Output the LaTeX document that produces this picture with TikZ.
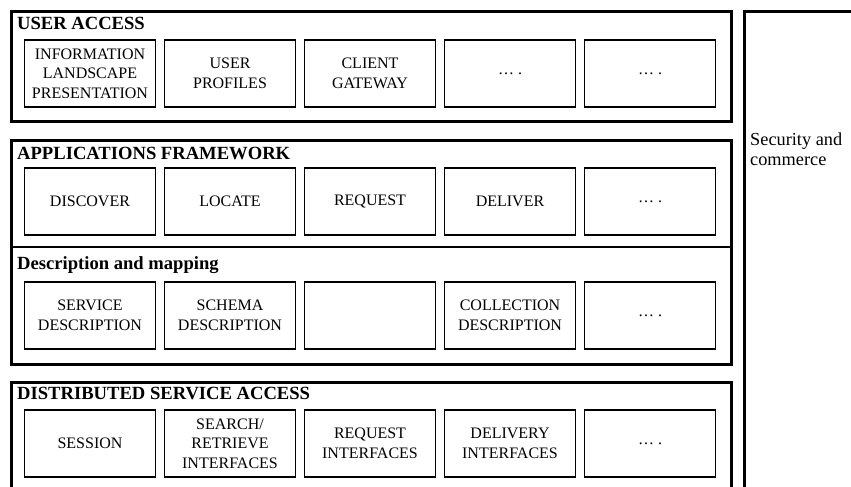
\documentclass[tikz,border=0pt]{standalone}
\usepackage{fontspec}
\setmainfont{Liberation Serif}
\begin{document}
\begin{tikzpicture}[x=1pt,y=-1pt,
  frame/.style={draw=black,line width=2.6pt,anchor=north west,inner sep=0pt},
  unit/.style={draw=black,line width=1.1pt,minimum width=131pt,minimum height=67pt,
    inner sep=2pt,align=center,font=\fontsize{16}{19.5}\selectfont},
  heading/.style={anchor=base west,inner sep=0pt,font=\fontsize{18.6}{22}\selectfont\bfseries},
  side/.style={anchor=north west,inner sep=0pt,align=left,font=\fontsize{18.3}{20}\selectfont}]
\useasboundingbox (0,0) rectangle (851,487);

% outer layer frames
\node[frame,minimum width=720pt,minimum height=110pt] (ua) at (10,10) {};
\node[frame,minimum width=720pt,minimum height=224pt] (af) at (10,139) {};
\node[frame,minimum width=720pt,minimum height=130pt] (dsa) at (10,381) {};
\node[frame,minimum width=130pt,minimum height=500pt] (sec) at (743,10) {};
\coordinate (sepL) at (10,247);
\coordinate (sepR) at (730,247);
\draw[line width=2.6pt] (sepL) -- (sepR);

% layer headings
\node[heading] (hua) at (17,30) {USER ACCESS};
\node[heading] (haf) at (17,159) {APPLICATIONS FRAMEWORK};
\node[heading] (hdm) at (17,269) {Description and mapping};
\node[heading] (hdsa) at (17,399) {DISTRIBUTED SERVICE ACCESS};
\node[side] (hsec) at (750,133) {Security and\\commerce};

% user access
\node[unit] (u1) at (90,73.5) {INFORMATION\\LANDSCAPE\\PRESENTATION};
\node[unit] (u2) at (230,73.5) {USER\\PROFILES};
\node[unit] (u3) at (370,73.5) {CLIENT\\GATEWAY};
\node[unit] (u4) at (510,73.5) {… .};
\node[unit] (u5) at (650,73.5) {… .};

% applications framework
\node[unit] (a1) at (90,201.5) {DISCOVER};
\node[unit] (a2) at (230,201.5) {LOCATE};
\node[unit] (a3) at (370,201.5) {REQUEST};
\node[unit] (a4) at (510,201.5) {DELIVER};
\node[unit] (a5) at (650,201.5) {… .};

% description and mapping
\node[unit] (d1) at (90,315.5) {SERVICE\\DESCRIPTION};
\node[unit] (d2) at (230,315.5) {SCHEMA\\DESCRIPTION};
\node[unit] (d3) at (370,315.5) {};
\node[unit] (d4) at (510,315.5) {COLLECTION\\DESCRIPTION};
\node[unit] (d5) at (650,315.5) {… .};

% distributed service access
\node[unit] (s1) at (90,443.5) {SESSION};
\node[unit] (s2) at (230,443.5) {SEARCH/\\RETRIEVE\\INTERFACES};
\node[unit] (s3) at (370,443.5) {REQUEST\\INTERFACES};
\node[unit] (s4) at (510,443.5) {DELIVERY\\INTERFACES};
\node[unit] (s5) at (650,443.5) {… .};
\end{tikzpicture}
\end{document}
